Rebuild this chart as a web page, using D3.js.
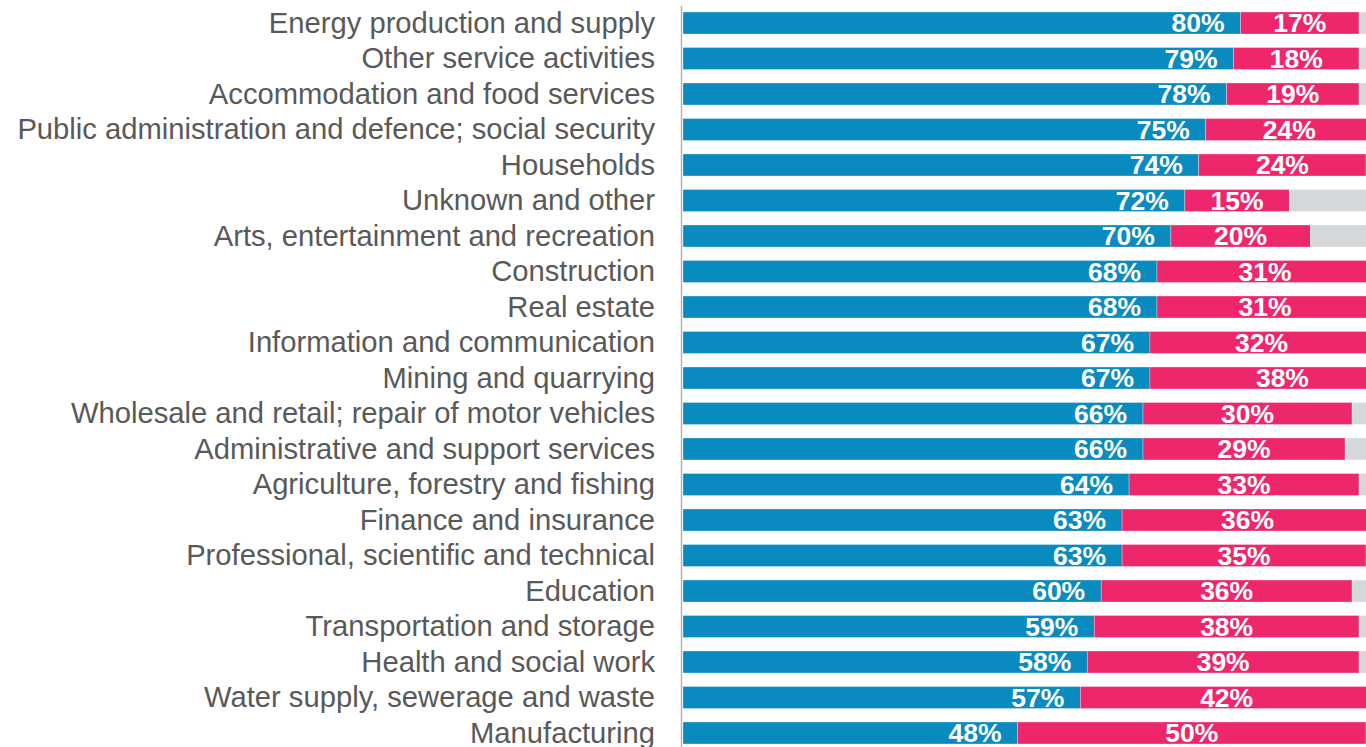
<!DOCTYPE html>
<html>
<head>
<meta charset="utf-8">
<script src="https://cdn.jsdelivr.net/npm/d3@7"></script>
<style>
  html, body { margin: 0; padding: 0; background: #ffffff; overflow: hidden; }
  svg { display: block; }
</style>
</head>
<body>
<svg id="chart" width="1366" height="747"></svg>
<script>
// Sectors, top to bottom
const categories = [
  "Energy production and supply",
  "Other service activities",
  "Accommodation and food services",
  "Public administration and defence; social security",
  "Households",
  "Unknown and other",
  "Arts, entertainment and recreation",
  "Construction",
  "Real estate",
  "Information and communication",
  "Mining and quarrying",
  "Wholesale and retail; repair of motor vehicles",
  "Administrative and support services",
  "Agriculture, forestry and fishing",
  "Finance and insurance",
  "Professional, scientific and technical",
  "Education",
  "Transportation and storage",
  "Health and social work",
  "Water supply, sewerage and waste",
  "Manufacturing"
];

// Shares in percent
const blueShare = [80, 79, 78, 75, 74, 72, 70, 68, 68, 67, 67, 66, 66, 64, 63, 63, 60, 59, 58, 57, 48];
const pinkShare = [17, 18, 19, 24, 24, 15, 20, 31, 31, 32, 38, 30, 29, 33, 36, 35, 36, 38, 39, 42, 50];
// Remainder up to 100%
const greyShare = blueShare.map((b, i) => Math.max(0, 100 - b - pinkShare[i]));

const colors = { blue: "#0a8bc0", pink: "#ee276d", grey: "#d5d8db" };
const FONT = "'Liberation Sans', Arial, Helvetica, sans-serif";

const rows = categories.map((c, i) => ({
  cat: c,
  blue: blueShare[i],
  pink: pinkShare[i],
  grey: greyShare[i]
}));

const svg = d3.select("#chart");

const y = d3.scaleBand()
  .domain(categories)
  .range([5.25, 750.75])
  .paddingInner(0.38)
  .paddingOuter(0.19);

const x = d3.scaleLinear()
  .domain([0, 100])
  .range([683, 1380]);

const stack = d3.stack().keys(["blue", "pink", "grey"]);
const series = stack(rows);

const g = svg.append("g");

g.selectAll("g.series")
  .data(series)
  .join("g")
  .attr("class", "series")
  .attr("fill", d => colors[d.key])
  .selectAll("rect")
  .data(d => d.map(v => ({ v, cat: v.data.cat })))
  .join("rect")
  .attr("x", d => x(d.v[0]))
  .attr("y", d => y(d.cat))
  .attr("width", d => Math.max(0, x(d.v[1]) - x(d.v[0])))
  .attr("height", y.bandwidth())
  .attr("stroke", "#ffffff")
  .attr("stroke-opacity", 0.5)
  .attr("stroke-width", 0.6);

// Value labels
const fs = 26.5;
const labels = svg.append("g")
  .attr("font-family", FONT)
  .attr("font-weight", "bold")
  .attr("font-size", fs)
  .attr("fill", "#ffffff");

labels.selectAll("text.blue")
  .data(rows)
  .join("text")
  .attr("class", "blue")
  .attr("text-anchor", "end")
  .attr("x", d => x(d.blue) - 16)
  .attr("y", d => y(d.cat) + y.bandwidth() / 2 + fs * 0.35)
  .text(d => d.blue + "%");

labels.selectAll("text.pink")
  .data(rows)
  .join("text")
  .attr("class", "pink")
  .attr("text-anchor", "middle")
  .attr("x", d => (x(d.blue) + x(d.blue + d.pink)) / 2)
  .attr("y", d => y(d.cat) + y.bandwidth() / 2 + fs * 0.35)
  .text(d => d.pink + "%");

// Category axis
const axis = svg.append("g")
  .attr("transform", "translate(681,0)")
  .call(d3.axisLeft(y).tickSize(0).tickPadding(26));

axis.select(".domain")
  .attr("stroke", "#b3b3b3")
  .attr("stroke-width", 1.5);

axis.selectAll(".tick text")
  .attr("font-family", FONT)
  .attr("font-size", 29.2)
  .attr("dy", "0.34em")
  .attr("fill", "#595959");
</script>
</body>
</html>
